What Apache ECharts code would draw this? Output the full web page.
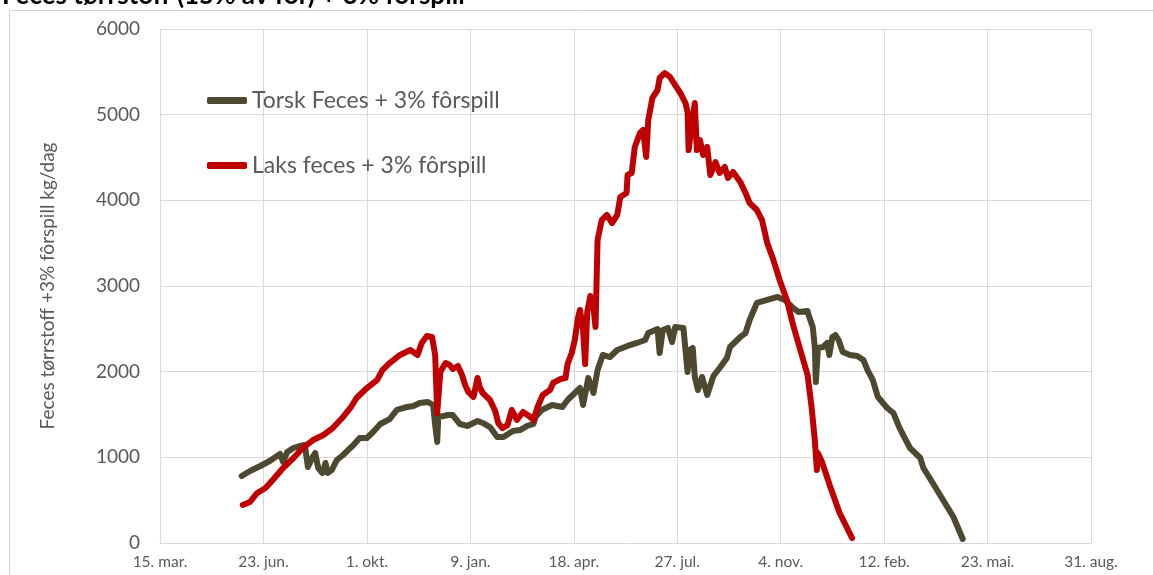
<!DOCTYPE html>
<html>
<head>
<meta charset="utf-8">
<title>Feces tørrstoff + 3% fôrspill</title>
<script src="https://cdn.jsdelivr.net/npm/echarts@6/dist/echarts.min.js"></script>
<style>
  html, body { margin: 0; padding: 0; background: #ffffff; }
  #chart { width: 1153px; height: 575px; }
</style>
</head>
<body>
<div id="chart"></div>
<script>
// Horizontal axis: days counted from 15. mar. 2023, one tick every 100 days.
const xTickLabels = ['15. mar.', '23. jun.', '1. okt.', '9. jan.', '18. apr.',
                     '27. jul.', '4. nov.', '12. feb.', '23. mai.', '31. aug.'];
const yTickValues = [0, 1000, 2000, 3000, 4000, 5000, 6000];

// Torsk: feces + 3% fôrspill, kg/dag
const torskDays = [79, 87, 97, 106, 116, 119, 123, 129, 135, 140, 143, 147, 150, 153, 157, 160, 162, 166, 171, 177,
  182, 187, 193, 200, 206, 213, 222, 229, 239, 245, 251, 259, 264, 266, 268, 269, 274, 278, 283, 290,
  297, 307, 312, 319, 326, 332, 341, 348, 355, 361, 363, 369, 379, 389, 394, 403, 406, 409, 414, 419,
  423, 428, 435, 442, 452, 461, 469, 472, 481, 483, 486, 491, 495, 498, 506, 510, 512, 515, 517, 520,
  524, 529, 535, 541, 548, 551, 561, 566, 570, 577, 587, 597, 604, 611, 617, 626, 628, 631, 633, 634,
  636, 641, 645, 647, 650, 653, 656, 660, 667, 674, 680, 684, 689, 694, 703, 709, 715, 725, 735, 738,
  747, 757, 767, 776];
const torskValues = [782, 840, 899, 957, 1039, 946, 1062, 1109, 1132, 1144, 887, 992, 1051, 875, 817, 934, 817, 852, 969, 1027,
  1086, 1144, 1226, 1226, 1296, 1389, 1447, 1553, 1588, 1599, 1634, 1646, 1611, 1377, 1179, 1471, 1482, 1494, 1494, 1389,
  1366, 1424, 1401, 1354, 1237, 1237, 1307, 1319, 1366, 1389, 1471, 1553, 1611, 1588, 1669, 1774, 1809, 1611, 1926, 1751,
  2019, 2195, 2171, 2253, 2300, 2335, 2370, 2451, 2498, 2218, 2486, 2510, 2346, 2521, 2510, 1996, 2253, 2276, 1938, 1786,
  1938, 1728, 1949, 2043, 2160, 2288, 2405, 2451, 2603, 2802, 2837, 2872, 2837, 2755, 2697, 2708, 2626, 2521, 2288, 1879,
  2276, 2288, 2335, 2195, 2405, 2428, 2370, 2230, 2195, 2183, 2136, 2019, 1903, 1704, 1576, 1517, 1342, 1109, 992, 875,
  700, 502, 303, 47];

// Laks: feces + 3% fôrspill, kg/dag
const laksDays = [80, 87, 94, 102, 109, 119, 129, 138, 148, 158, 167, 177, 184, 190, 200, 210, 215, 222, 232, 242,
  249, 253, 258, 263, 266, 268, 271, 276, 280, 283, 288, 292, 295, 298, 303, 307, 309, 312, 319, 324,
  327, 331, 336, 340, 345, 351, 358, 361, 365, 370, 377, 380, 387, 392, 394, 398, 401, 404, 406, 409,
  411, 413, 416, 419, 421, 423, 427, 432, 437, 442, 445, 451, 452, 456, 459, 464, 467, 470, 472, 476,
  481, 483, 488, 493, 498, 503, 508, 510, 511, 514, 517, 519, 522, 525, 529, 532, 537, 541, 546, 549,
  554, 561, 566, 570, 577, 582, 587, 593, 599, 606, 612, 619, 626, 630, 633, 635, 636, 640, 648, 657,
  669];
const laksValues = [444, 479, 584, 642, 735, 875, 992, 1109, 1202, 1261, 1342, 1471, 1576, 1693, 1809, 1903, 2019, 2101, 2195, 2253,
  2195, 2335, 2416, 2405, 2195, 1517, 1996, 2101, 2078, 2031, 2066, 1961, 1844, 1763, 1704, 1926, 1821, 1751, 1669, 1541,
  1401, 1342, 1377, 1553, 1436, 1529, 1471, 1436, 1588, 1728, 1786, 1868, 1914, 1926, 2089, 2218, 2370, 2626, 2720, 2486,
  2089, 2697, 2883, 2755, 2521, 3537, 3770, 3829, 3735, 3829, 4039, 4086, 4296, 4319, 4623, 4786, 4821, 4506, 4938, 5195,
  5288, 5428, 5486, 5440, 5346, 5253, 5136, 5031, 4587, 4856, 5136, 4587, 4704, 4529, 4623, 4296, 4447, 4319, 4389, 4261,
  4331, 4214, 4086, 3969, 3887, 3770, 3502, 3303, 3070, 2837, 2545, 2253, 1961, 1576, 1202, 852, 1051, 946, 654, 350,
  58];

const torskColor = '#4d4830';
const laksColor = '#c00000';
const textColor = '#595959';
const gridColor = '#d9d9d9';
const fontFamily = 'Lato, "Open Sans", sans-serif';

const zip = (xs, ys) => xs.map((x, i) => [x, ys[i]]);

const chart = echarts.init(document.getElementById('chart'), null, { renderer: 'canvas' });

chart.setOption({
  animation: false,
  backgroundColor: '#ffffff',
  textStyle: { fontFamily: fontFamily },
  graphic: [
    {
      type: 'rect',
      z: -10,
      shape: { x: 9.5, y: 10.5, width: 1200, height: 620 },
      style: { fill: null, stroke: '#d4d4d4', lineWidth: 1 }
    },
    {
      type: 'text',
      x: 2,
      y: 9,
      style: {
        text: 'Feces tørrstoff (15% av fôr) + 3% fôrspill',
        fontFamily: fontFamily,
        fontWeight: 'bold',
        fontSize: 26,
        fill: '#000000',
        verticalAlign: 'bottom'
      }
    }
  ],
  grid: {
    left: 160,
    right: 62,
    top: 29,
    bottom: 32,
    containLabel: false,
    outerBoundsMode: 'none'
  },
  legend: {
    orient: 'vertical',
    left: 207,
    top: 89,
    padding: 0,
    itemGap: 42,
    itemWidth: 40,
    itemHeight: 7,
    itemTextGap: 0,
    icon: 'roundRect',
    selectedMode: false,
    textStyle: { color: textColor, fontSize: 23, lineHeight: 20, fontFamily: fontFamily },
    data: ['Torsk Feces + 3% fôrspill', 'Laks feces + 3% fôrspill']
  },
  xAxis: {
    type: 'value',
    min: 0,
    max: 900,
    interval: 100,
    axisLine: { show: true, lineStyle: { color: gridColor, width: 1 } },
    axisTick: { show: false },
    splitLine: { show: true, lineStyle: { color: gridColor, width: 1 } },
    axisLabel: {
      color: textColor,
      fontSize: 15.5,
      margin: 11,
      fontFamily: fontFamily,
      formatter: function (v) { return xTickLabels[Math.round(v / 100)] || ''; }
    }
  },
  yAxis: {
    type: 'value',
    min: yTickValues[0],
    max: yTickValues[yTickValues.length - 1],
    interval: 1000,
    name: 'Feces tørrstoff +3% fôrspill kg/dag',
    nameLocation: 'middle',
    nameGap: 103,
    nameTextStyle: { color: textColor, fontSize: 19, fontFamily: fontFamily },
    axisLine: { show: false },
    axisTick: { show: false },
    splitLine: { show: true, lineStyle: { color: gridColor, width: 1 } },
    axisLabel: {
      color: textColor,
      fontSize: 19,
      margin: 20,
      fontFamily: fontFamily,
      formatter: function (v) { return String(v); }
    }
  },
  series: [
    {
      name: 'Torsk Feces + 3% fôrspill',
      type: 'line',
      showSymbol: false,
      symbol: 'none',
      color: torskColor,
      lineStyle: { color: torskColor, width: 6, cap: 'round', join: 'round' },
      emphasis: { disabled: true },
      data: zip(torskDays, torskValues)
    },
    {
      name: 'Laks feces + 3% fôrspill',
      type: 'line',
      showSymbol: false,
      symbol: 'none',
      color: laksColor,
      lineStyle: { color: laksColor, width: 6, cap: 'round', join: 'round' },
      emphasis: { disabled: true },
      data: zip(laksDays, laksValues)
    }
  ]
});
</script>
</body>
</html>
